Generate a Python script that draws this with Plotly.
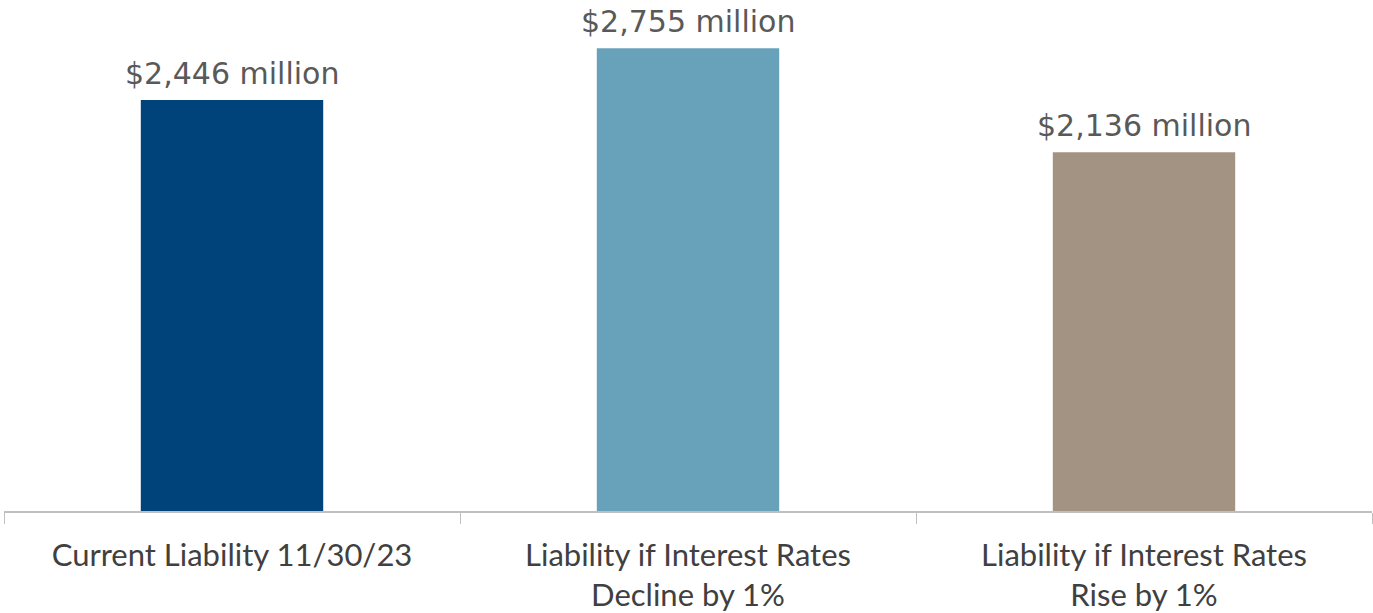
import plotly.graph_objects as go

# Pension liability sensitivity, $ millions
categories = [
    "Current Liability 11/30/23",
    "Liability if Interest Rates<br>Decline by 1%",
    "Liability if Interest Rates<br>Rise by 1%",
]
liability_millions = [2446, 2755, 2136]
bar_colors = ["#00437A", "#68A2BA", "#A39383"]

value_labels = [f"${v:,} million" for v in liability_millions]

fig = go.Figure(
    go.Bar(
        x=categories,
        y=liability_millions,
        marker=dict(color=bar_colors, line=dict(width=0)),
        width=0.4,
        hoverinfo="skip",
    )
)

# value labels sitting just above each bar
for cat, val, label in zip(categories, liability_millions, value_labels):
    fig.add_annotation(
        x=cat,
        y=val,
        text=label,
        showarrow=False,
        yanchor="bottom",
        yshift=7,
        font=dict(family="DejaVu Sans", size=30, color="#595959"),
    )

fig.update_layout(
    width=1373,
    height=613,
    margin=dict(l=4, r=1, t=7, b=102),
    paper_bgcolor="white",
    plot_bgcolor="white",
    showlegend=False,
    xaxis=dict(
        showline=True,
        linecolor="#BFBFBF",
        linewidth=1.5,
        ticks="outside",
        tickcolor="#BFBFBF",
        ticklen=11,
        tickson="boundaries",
        ticklabelstandoff=16,
        tickfont=dict(family="Lato", size=31, color="#404040"),
        showgrid=False,
    ),
    yaxis=dict(
        range=[0, 3000],
        visible=False,
        showgrid=False,
        zeroline=False,
    ),
)

fig.write_html("out.html")
